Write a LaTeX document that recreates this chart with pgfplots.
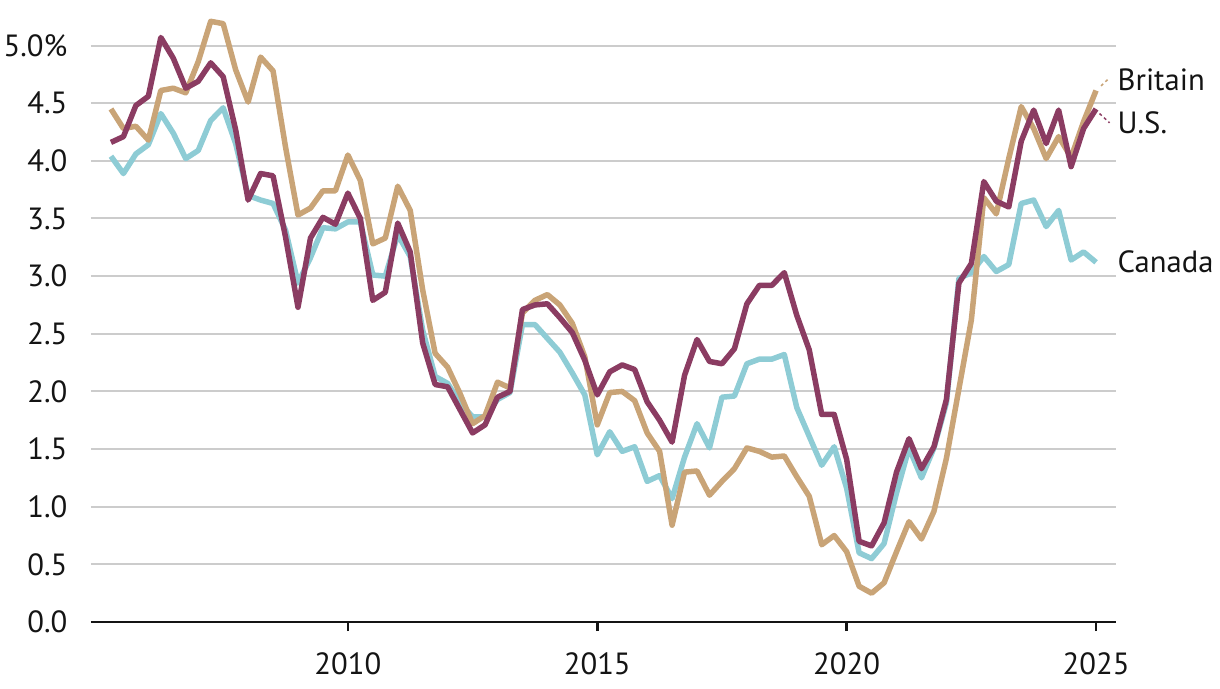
\documentclass[border=0pt]{standalone}
\usepackage{fontspec}
\setmainfont{PT Sans}
\usepackage{pgfplots}
\pgfplotsset{compat=1.18}
\usepackage{pgfplotstable}

\definecolor{brit}{HTML}{C9A477}
\definecolor{usa}{HTML}{8B3C62}
\definecolor{can}{HTML}{8ECCD5}
\definecolor{gridc}{HTML}{CCCCCC}
\definecolor{ink}{HTML}{141414}

% quarterly rates: year, Britain, U.S., Canada
\pgfplotstableread{
year    uk    us    ca
2005.25 4.45  4.16  4.04
2005.50 4.28  4.21  3.89
2005.75 4.30  4.48  4.06
2006.00 4.18  4.56  4.14
2006.25 4.61  5.07  4.41
2006.50 4.63  4.89  4.24
2006.75 4.59  4.63  4.02
2007.00 4.86  4.69  4.09
2007.25 5.21  4.85  4.35
2007.50 5.19  4.73  4.46
2007.75 4.79  4.27  4.15
2008.00 4.51  3.66  3.70
2008.25 4.90  3.89  3.66
2008.50 4.78  3.87  3.63
2008.75 4.12  3.34  3.40
2009.00 3.53  2.73  2.94
2009.25 3.59  3.33  3.16
2009.50 3.74  3.51  3.42
2009.75 3.74  3.45  3.41
2010.00 4.05  3.72  3.47
2010.25 3.83  3.50  3.47
2010.50 3.28  2.79  3.01
2010.75 3.33  2.86  3.00
2011.00 3.78  3.46  3.36
2011.25 3.57  3.21  3.17
2011.50 2.88  2.42  2.53
2011.75 2.33  2.06  2.13
2012.00 2.21  2.04  2.07
2012.25 1.98  1.84  1.90
2012.50 1.72  1.64  1.78
2012.75 1.79  1.71  1.78
2013.00 2.08  1.95  1.93
2013.25 2.03  2.00  1.99
2013.50 2.68  2.71  2.58
2013.75 2.79  2.75  2.58
2014.00 2.84  2.76  2.46
2014.25 2.75  2.64  2.34
2014.50 2.59  2.51  2.16
2014.75 2.30  2.27  1.97
2015.00 1.71  1.97  1.45
2015.25 1.99  2.17  1.65
2015.50 2.00  2.23  1.48
2015.75 1.92  2.19  1.52
2016.00 1.64  1.91  1.22
2016.25 1.48  1.75  1.27
2016.50 0.84  1.56  1.07
2016.75 1.30  2.14  1.43
2017.00 1.31  2.45  1.72
2017.25 1.10  2.26  1.51
2017.50 1.22  2.24  1.95
2017.75 1.33  2.37  1.96
2018.00 1.51  2.76  2.24
2018.25 1.48  2.92  2.28
2018.50 1.43  2.92  2.28
2018.75 1.44  3.03  2.32
2019.00 1.26  2.66  1.86
2019.25 1.09  2.36  1.61
2019.50 0.67  1.80  1.36
2019.75 0.75  1.80  1.52
2020.00 0.61  1.41  1.16
2020.25 0.31  0.70  0.60
2020.50 0.25  0.66  0.55
2020.75 0.34  0.86  0.68
2021.00 0.61  1.30  1.12
2021.25 0.87  1.59  1.51
2021.50 0.72  1.33  1.25
2021.75 0.96  1.52  1.51
2022.00 1.42  1.93  1.90
2022.25 2.02  2.94  2.98
2022.50 2.62  3.11  3.03
2022.75 3.68  3.82  3.17
2023.00 3.54  3.65  3.04
2023.25 4.02  3.60  3.10
2023.50 4.47  4.17  3.63
2023.75 4.28  4.44  3.66
2024.00 4.02  4.15  3.43
2024.25 4.21  4.44  3.57
2024.50 4.03  3.95  3.14
2024.75 4.34  4.28  3.21
2025.00 4.61  4.45  3.12
}\rates

\begin{document}
\begin{tikzpicture}
\path[use as bounding box] (-27.3pt,-19.8pt) rectangle (338.7pt,186.6pt);
\begin{axis}[
    at={(0,0)}, anchor=south west,
    scale only axis,
    width=307.5pt, height=186.6pt,
    xmin=2004.85, xmax=2025.40,
    ymin=0, ymax=5.395,
    clip=false,
    axis lines*=left,
    y axis line style={draw=none},
    x axis line style={ink, line width=0.75pt, -},
    xtick={2010,2015,2020,2025},
    xticklabels={2010,2015,2020,2025},
    ytick={0,0.5,1,1.5,2,2.5,3,3.5,4,4.5,5},
    yticklabels={0.0,0.5,1.0,1.5,2.0,2.5,3.0,3.5,4.0,4.5,5.0\%},
    ytick style={draw=none},
    xtick style={ink, line width=0.75pt},
    tick align=outside,
    major tick length=2.7pt,
    ymajorgrids,
    grid style={gridc, line width=0.6pt},
    every tick label/.append style={font=\fontsize{9.2}{10}\selectfont, text=ink},
    yticklabel style={anchor=east, inner sep=0pt, xshift=-4.2pt},
    xticklabel style={anchor=north, inner sep=0pt, yshift=-6.2pt},
    every axis plot/.append style={line width=1.65pt, line join=round},
]
\addplot[can] table[x=year, y=ca] {\rates};
\addplot[brit] table[x=year, y=uk] {\rates};
\addplot[usa] table[x=year, y=us] {\rates};

\draw[brit, line width=0.45pt, dash pattern=on 0.9pt off 0.9pt] (axis cs:2025.10,4.65) -- (axis cs:2025.27,4.72);
\draw[usa, line width=0.45pt, dash pattern=on 0.9pt off 0.9pt] (axis cs:2025.07,4.41) -- (axis cs:2025.27,4.33);

\node[anchor=base west, inner sep=0pt, font=\fontsize{9.2}{10}\selectfont, text=ink] at (axis cs:2025.42,4.61) {Britain};
\node[anchor=base west, inner sep=0pt, font=\fontsize{9.2}{10}\selectfont, text=ink] at (axis cs:2025.42,4.24) {U.S.};
\node[anchor=base west, inner sep=0pt, font=\fontsize{9.2}{10}\selectfont, text=ink] at (axis cs:2025.42,3.03) {Canada};
\end{axis}
\end{tikzpicture}
\end{document}
